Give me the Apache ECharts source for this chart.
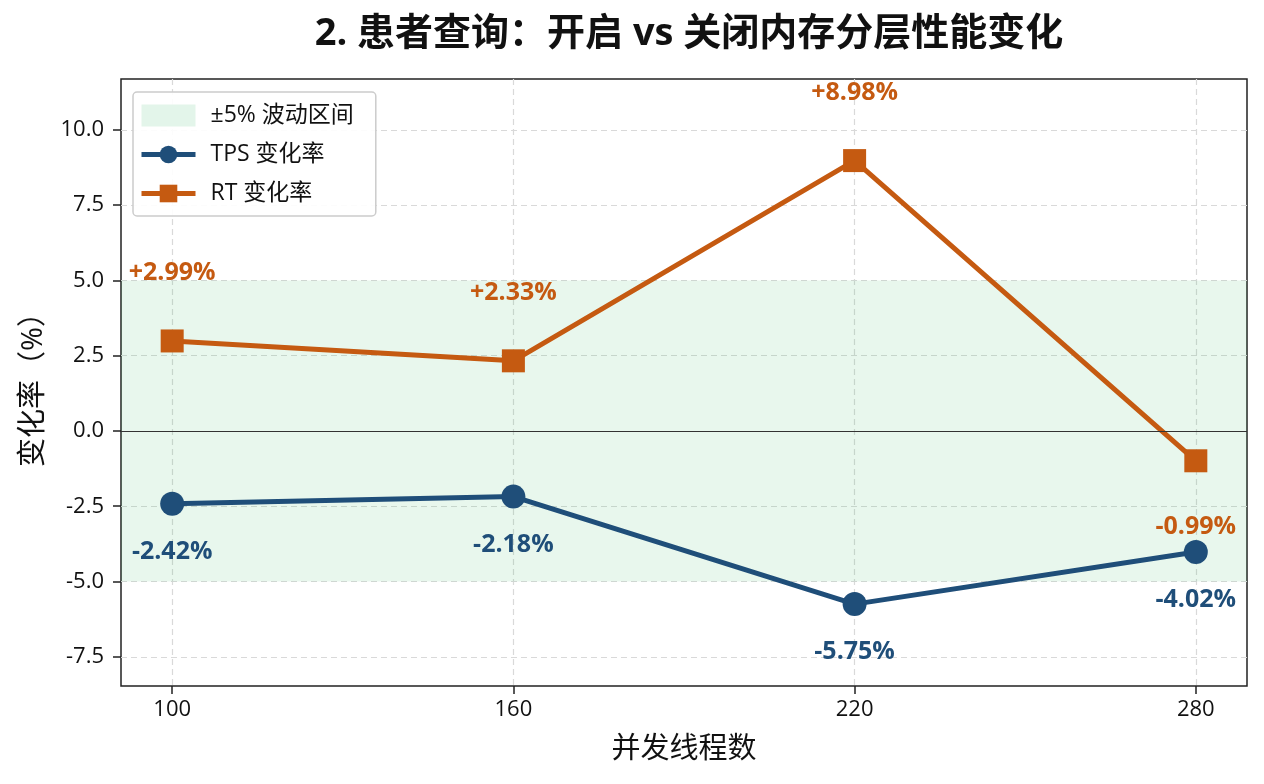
<!DOCTYPE html>
<html>
<head>
<meta charset="UTF-8">
<title>患者查询 内存分层性能变化</title>
<script type="text/javascript" src="https://cdn.jsdelivr.net/npm/echarts@6/dist/echarts.min.js"></script>
<style>
	html,body{margin:0;padding:0;background:#fff;}
</style>
</head>
<body>
	<div id="show" style="width:1264px;height:784px"></div>
	<script type="text/javascript">
		// 数据
		var threads=[100,160,220,280];
		var tpsChange=[-2.42,-2.18,-5.75,-4.02];
		var rtChange=[2.99,2.33,8.98,-0.99];
		var yTicks=[-7.5,-5,-2.5,0,2.5,5,7.5,10];
		var bandLow=-5, bandHigh=5;

		var FONT='"Open Sans","Noto Sans CJK SC",sans-serif';
		var TPS_COLOR='#1f4e79';
		var RT_COLOR='#c55a11';

		function fmt(v){
			return (v>0?'+':'')+v.toFixed(2)+'%';
		}
		// RT 正值标签在点上方，其余在点下方
		function pairs(vals,above){
			var arr=[];
			for(var i=0;i<threads.length;i++){
				var up=above&&vals[i]>=0;
				arr.push({
					value:[threads[i],vals[i]],
					label:{offset:[0, above?(up?-68:66):48]}
				});
			}
			return arr;
		}

		var myCharts=echarts.init(document.getElementById('show'));
		myCharts.setOption({
			animation:false,
			title:{
				text:'2. 患者查询：开启 vs 关闭内存分层性能变化',
				left:684,
				textAlign:'center',
				top:10,
				textStyle:{fontFamily:FONT,fontSize:38,fontWeight:'bold',color:'#111'}
			},
			legend:{
				left:133,
				top:92,
				orient:'vertical',
				data:[
					{name:'±5% 波动区间',icon:'rect'},
					{name:'TPS 变化率',lineStyle:{width:5}},
					{name:'RT 变化率',lineStyle:{width:5}}
				],
				itemWidth:54,
				itemHeight:22,
				itemGap:16,
				padding:[12,22,11,6],
				backgroundColor:'rgba(255,255,255,0.9)',
				borderColor:'#cccccc',
				borderWidth:1.5,
				borderRadius:4,
				textStyle:{fontFamily:FONT,fontSize:23,color:'#111',padding:[0,0,0,10]}
			},
			grid:{
				left:121,right:17,top:79,bottom:98,
				show:true,borderColor:'#222',borderWidth:1.5,backgroundColor:'transparent'
			},
			xAxis:{
				type:'value',
				min:91,max:289,
				name:'并发线程数',
				nameLocation:'middle',
				nameGap:49,
				nameTextStyle:{fontFamily:FONT,fontSize:29,color:'#111'},
				axisLine:{show:false,onZero:false},
				axisTick:{show:true,customValues:threads,length:8,lineStyle:{color:'#222',width:1.5}},
				axisLabel:{customValues:threads,fontFamily:FONT,fontSize:22,color:'#111',margin:13},
				splitLine:{show:true,lineStyle:{color:'#d9d9d9',type:[6,4],width:1.2}}
			},
			yAxis:{
				type:'value',
				min:-8.47,max:11.69,
				name:'变化率（%）',
				nameLocation:'middle',
				nameGap:73,
				nameRotate:90,
				nameTextStyle:{fontFamily:FONT,fontSize:29,color:'#111'},
				axisLine:{show:false,onZero:false},
				axisTick:{show:true,customValues:yTicks,length:8,lineStyle:{color:'#222',width:1.5}},
				axisLabel:{customValues:yTicks,fontFamily:FONT,fontSize:22,color:'#111',margin:17,
					formatter:function(v){return v.toFixed(1);}},
				splitLine:{show:true,lineStyle:{color:'#d9d9d9',type:[6,4],width:1.2}}
			},
			series:[
				{
					name:'±5% 波动区间',
					type:'line',
					data:[],
					itemStyle:{color:'#e3f5ea'},
					lineStyle:{width:0},
					markArea:{
						silent:true,
						itemStyle:{color:'rgba(46,184,92,0.11)'},
						data:[[{yAxis:bandLow},{yAxis:bandHigh}]]
					},
					markLine:{
						silent:true,
						symbol:'none',
						label:{show:false},
						lineStyle:{color:'#333',width:1.2,type:'solid'},
						data:[{yAxis:0}]
					}
				},
				{
					name:'TPS 变化率',
					type:'line',
					data:pairs(tpsChange,false),
					symbol:'circle',
					symbolSize:24,
					z:3,
					lineStyle:{color:TPS_COLOR,width:5},
					itemStyle:{color:TPS_COLOR},
					label:{
						show:true,position:'inside',
						formatter:function(p){return fmt(p.value[1]);},
						fontFamily:FONT,fontSize:25,fontWeight:'bold',color:TPS_COLOR
					}
				},
				{
					name:'RT 变化率',
					type:'line',
					data:pairs(rtChange,true),
					symbol:'rect',
					symbolSize:23,
					z:4,
					lineStyle:{color:RT_COLOR,width:5},
					itemStyle:{color:RT_COLOR},
					label:{
						show:true,position:'inside',
						formatter:function(p){return fmt(p.value[1]);},
						fontFamily:FONT,fontSize:25,fontWeight:'bold',color:RT_COLOR
					}
				}
			]
		});
	</script>
</body>
</html>
